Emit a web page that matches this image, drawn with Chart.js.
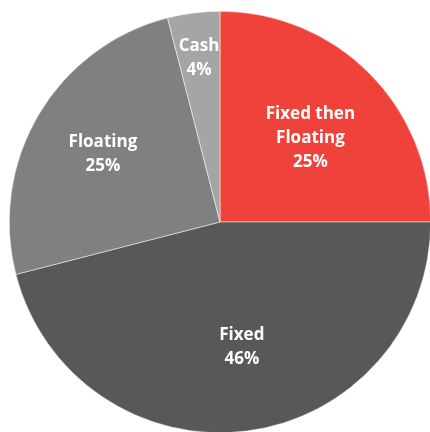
<!DOCTYPE html>
<html>
<head>
<meta charset="utf-8">
<script src="https://cdn.jsdelivr.net/npm/chart.js@4.4.0/dist/chart.umd.min.js"></script>
<style>
  html, body { margin: 0; padding: 0; background: #fff; overflow: hidden; }
  #wrap { position: absolute; left: 9px; top: 11px; width: 422px; height: 422px; }
</style>
</head>
<body>
<div id="wrap"><canvas id="chart"></canvas></div>
<script>
// Rate mix shares (%)
const categories = ['Fixed then Floating', 'Fixed', 'Floating', 'Cash'];
const shares = [25, 46, 25, 4];
const sliceColors = ['#EF423A', '#585858', '#808080', '#A5A5A5'];
// how far out each label sits (fraction of radius) plus a small pixel nudge
const labelRadius = [0.6, 0.6, 0.64, 0.79];
const labelNudge = [[1, 6], [6, 0], [-1, 1], [0, 1]];

const sliceLabels = {
    id: 'sliceLabels',
    afterDatasetsDraw(chart) {
        const ctx = chart.ctx;
        const meta = chart.getDatasetMeta(0);
        ctx.save();
        ctx.fillStyle = '#ffffff';
        ctx.font = "bold 17px 'Open Sans', sans-serif";
        ctx.textAlign = 'center';
        ctx.textBaseline = 'middle';
        meta.data.forEach((arc, i) => {
            const p = arc.getProps(['x', 'y', 'startAngle', 'endAngle', 'outerRadius'], true);
            const mid = (p.startAngle + p.endAngle) / 2;
            const r = p.outerRadius * labelRadius[i];
            const cx = p.x + Math.cos(mid) * r + labelNudge[i][0];
            const cy = p.y + Math.sin(mid) * r + labelNudge[i][1];
            let lines = categories[i] === 'Fixed then Floating'
                ? ['Fixed then', 'Floating'] : [categories[i]];
            lines = lines.concat([shares[i] + '%']);
            const lh = 24;
            const top = cy - (lines.length - 1) * lh / 2;
            lines.forEach((t, k) => ctx.fillText(t, cx, top + k * lh));
        });
        ctx.restore();
    }
};

new Chart(document.getElementById('chart').getContext('2d'), {
    type: 'pie',
    data: {
        labels: categories,
        datasets: [{
            data: shares,
            backgroundColor: sliceColors,
            borderColor: '#ffffff',
            borderWidth: 0.5
        }]
    },
    options: {
        responsive: true,
        maintainAspectRatio: false,
        animation: false,
        layout: { padding: 0 },
        plugins: {
            legend: { display: false },
            tooltip: { enabled: false }
        }
    },
    plugins: [sliceLabels]
});
</script>
</body>
</html>
